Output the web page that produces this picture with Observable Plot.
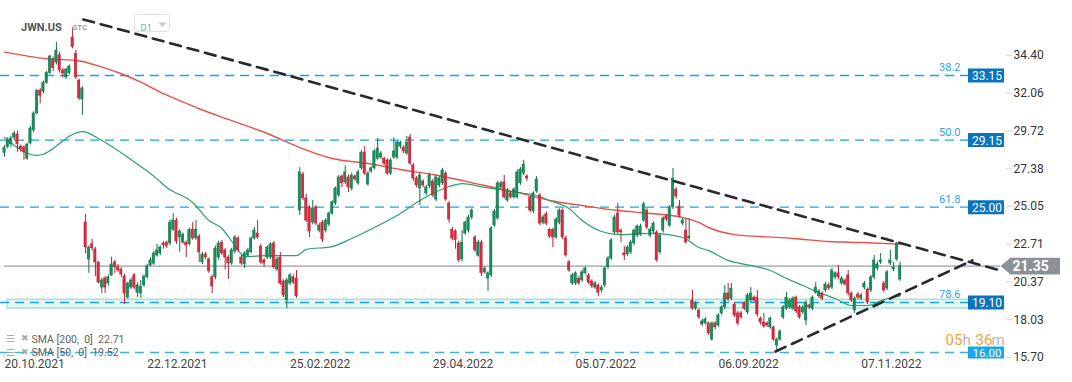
<!DOCTYPE html>
<html><head><meta charset="utf-8">
<script src="https://cdn.jsdelivr.net/npm/d3@7"></script>
<script src="https://cdn.jsdelivr.net/npm/@observablehq/plot@0.6"></script>
<style>html,body{margin:0;padding:0;background:#fff;overflow:hidden}</style>
</head><body><div id="chart"></div>
<script>
// ---- data: daily candles JWN.US, 20.10.2021 .. 23.11.2022 (index = trading day) ----
const open = [
28.34,28.71,28.88,29.30,29.50,28.75,28.70,28.00,28.95,29.75,
30.80,32.20,32.15,32.70,33.30,34.14,33.95,34.40,33.46,33.03,
33.30,35.50,34.50,32.84,31.67,24.05,21.75,22.70,22.38,21.58,
20.02,20.58,20.27,20.77,21.58,21.30,21.14,20.70,19.40,20.02,
20.77,19.70,19.65,20.15,20.65,21.39,21.50,22.00,22.13,22.75,
22.80,22.75,23.60,24.17,23.12,22.80,22.80,22.70,23.60,23.06,
23.18,21.58,22.07,21.76,20.65,20.65,21.88,22.80,22.32,21.88,
21.51,22.25,23.06,21.88,21.45,22.00,22.20,23.06,23.37,22.56,
21.70,21.88,21.88,22.75,21.14,21.88,20.40,19.22,20.27,20.65,
20.58,24.79,27.02,25.54,24.98,24.04,24.98,23.55,24.04,23.55,
23.92,24.60,25.23,25.72,26.90,26.53,26.84,26.15,26.90,26.47,
27.40,28.38,26.40,27.20,27.40,28.00,28.07,28.00,27.89,27.08,
28.07,28.07,28.75,28.69,28.32,29.31,27.58,26.77,26.15,26.59,
25.85,26.28,26.59,25.47,26.34,26.47,27.08,25.23,23.60,23.50,
22.75,21.76,23.37,23.55,24.36,23.12,22.00,22.81,20.96,20.58,
20.77,23.86,24.30,26.22,26.53,25.41,25.85,25.60,25.60,26.47,
27.08,26.90,25.60,24.73,25.97,25.72,24.04,24.55,23.60,23.60,
23.12,24.04,24.79,23.06,21.58,20.27,20.27,20.58,20.46,20.90,
20.77,20.40,20.02,20.15,19.84,20.15,21.27,21.82,23.43,24.60,
23.55,22.13,22.07,22.20,22.75,23.24,23.30,24.17,24.79,23.24,
23.49,23.43,22.20,23.55,24.42,23.86,24.98,26.09,25.04,23.98,
23.55,23.06,19.22,18.72,18.60,17.73,17.80,17.80,16.80,17.80,
17.67,18.42,18.79,19.65,19.34,18.97,18.42,18.42,19.03,18.48,
19.22,19.40,19.40,18.10,17.86,17.80,17.55,17.55,16.43,16.80,
18.17,18.72,18.79,18.72,19.40,18.79,18.48,17.98,18.91,18.72,
19.71,19.47,19.65,19.84,20.15,20.02,20.65,20.90,20.27,20.46,
20.77,19.65,18.60,19.59,19.34,20.02,19.90,19.84,20.65,21.20,
21.58,20.27,19.96,21.51,21.14,21.76,20.52];
const high = [
28.82,29.30,29.40,29.70,29.70,28.85,28.80,28.95,30.00,30.90,
32.30,32.35,32.80,33.40,34.40,34.30,35.20,34.60,33.60,33.60,
33.80,36.10,34.70,32.90,32.45,24.55,22.60,23.00,22.50,21.60,
20.60,20.70,20.80,21.90,21.70,21.45,21.25,20.85,20.35,20.60,
20.90,20.30,20.46,20.80,21.45,21.85,22.25,22.70,22.60,22.85,
22.90,24.20,24.60,24.30,23.60,23.40,22.90,23.70,24.04,24.17,
23.30,22.20,22.20,21.85,20.80,22.60,22.90,22.95,22.45,22.00,
22.45,23.25,23.20,22.00,22.25,22.45,23.15,23.74,24.17,22.70,
21.80,22.60,22.80,22.87,21.90,22.20,20.50,20.60,20.90,20.80,
21.08,27.45,27.15,25.80,25.10,25.41,25.10,24.00,24.17,24.30,
24.70,25.40,26.25,26.95,27.00,27.55,27.00,27.10,27.00,27.30,
28.50,28.75,27.20,27.50,28.55,29.25,28.45,28.10,28.00,28.00,
29.30,29.10,29.10,28.80,29.38,29.50,27.70,26.90,27.10,26.70,
26.35,27.10,26.70,26.95,26.90,27.40,27.20,25.35,23.75,23.60,
22.90,23.55,24.15,24.50,24.90,23.25,22.95,22.95,21.30,21.00,
23.80,24.85,26.60,26.60,26.96,26.15,25.95,26.20,27.30,27.45,
27.90,27.00,25.70,25.95,26.90,25.85,24.50,24.70,23.70,23.70,
24.35,24.90,24.90,23.20,21.70,20.90,21.00,20.70,21.10,21.30,
20.90,20.50,20.40,20.25,20.15,21.30,21.95,23.05,24.50,25.23,
23.65,22.56,22.60,22.95,23.65,23.90,23.95,25.30,24.90,23.75,
24.10,23.55,23.35,24.40,24.55,25.10,27.39,26.20,25.41,24.30,
24.30,24.30,19.84,19.15,18.70,18.05,18.15,17.90,17.90,17.90,
18.40,18.90,20.15,20.27,20.27,19.10,18.55,18.55,19.15,19.65,
20.02,19.50,19.84,18.20,18.42,17.90,18.20,17.65,16.90,17.40,
18.90,19.71,19.35,19.45,19.50,18.90,18.90,19.20,19.00,19.50,
20.33,19.90,19.75,20.33,20.27,21.20,21.00,21.39,20.70,20.55,
21.08,19.75,19.45,19.70,19.65,20.40,20.00,20.77,22.01,21.60,
22.13,20.40,21.08,22.32,21.58,22.81,21.58];
const low = [
28.09,28.60,28.70,29.10,28.40,28.40,27.90,27.90,28.85,29.60,
30.70,31.40,32.00,32.60,33.20,33.40,33.80,33.30,33.00,32.90,
33.20,34.80,32.90,31.60,30.68,22.10,20.90,22.30,20.70,20.25,
19.65,19.65,20.10,20.70,20.90,20.95,20.65,18.97,19.30,19.90,
19.90,19.40,19.35,20.05,20.55,21.30,21.40,21.90,22.00,22.40,
22.45,22.60,23.50,22.70,22.20,22.70,21.88,22.60,22.95,22.95,
21.58,21.45,21.75,20.90,19.65,20.50,21.70,22.00,21.10,20.52,
21.40,22.10,22.20,21.40,21.20,21.90,22.10,22.95,23.00,21.45,
21.27,21.75,21.75,21.15,21.00,20.15,19.40,18.72,20.15,20.20,
19.35,24.48,25.40,24.05,23.12,23.90,23.85,23.40,22.80,23.40,
23.80,24.50,25.10,25.60,26.20,26.40,25.90,26.00,26.60,26.35,
27.30,26.95,26.30,27.10,27.30,27.90,27.95,27.55,26.95,26.95,
27.95,27.95,28.60,28.30,28.20,27.58,26.60,26.20,25.10,26.20,
25.70,26.15,25.60,25.35,26.20,26.35,25.35,24.00,22.90,22.40,
21.55,21.60,23.25,23.40,24.20,22.20,21.90,20.70,20.85,19.78,
20.65,23.75,24.20,26.10,25.50,25.30,25.50,25.50,25.50,26.35,
26.95,26.60,24.65,24.60,25.85,23.85,23.90,23.85,23.05,22.50,
23.00,23.90,23.00,21.90,20.95,20.15,20.15,20.15,20.35,20.80,
20.20,19.95,19.90,19.47,19.70,20.00,21.15,21.70,23.30,23.30,
22.81,21.70,21.95,22.05,22.60,23.10,23.20,24.05,23.60,23.10,
23.35,21.58,22.05,23.40,24.10,23.75,24.85,25.50,24.35,23.85,
22.70,22.95,18.60,18.60,18.05,17.60,17.70,17.05,16.70,17.40,
17.55,18.30,18.65,19.15,19.20,18.15,17.65,18.05,18.60,18.35,
19.10,19.10,18.20,17.70,17.50,17.55,17.45,16.70,16.06,16.70,
18.05,18.60,18.65,18.60,18.40,18.05,18.35,17.67,18.65,18.60,
19.60,19.35,19.20,19.70,19.85,19.90,20.50,20.50,20.15,20.10,
19.50,19.10,18.42,19.25,19.20,19.90,18.97,19.70,20.50,21.05,
21.45,19.70,19.84,21.39,21.00,21.64,20.40];
const close = [
28.65,29.13,29.25,29.55,28.90,28.58,28.38,28.88,29.87,30.80,
32.20,31.90,32.70,33.30,34.33,33.60,34.70,33.46,33.27,33.52,
33.70,34.90,33.03,31.73,32.35,22.50,22.50,22.45,21.58,20.33,
20.46,20.02,20.65,21.45,21.27,21.08,20.83,19.65,20.27,20.46,
20.02,20.15,20.08,20.70,21.33,21.70,22.13,22.32,22.50,22.63,
22.60,24.04,24.17,22.87,23.49,23.30,22.63,23.60,23.06,23.60,
22.20,22.07,21.88,21.02,20.09,22.44,22.75,22.13,21.88,21.51,
22.32,23.12,22.32,21.51,22.13,22.32,23.06,23.55,23.12,21.58,
21.51,22.50,22.69,21.27,21.76,20.27,19.53,20.46,20.77,20.33,
19.47,27.15,25.54,24.17,23.49,24.92,23.98,23.86,23.00,24.17,
24.60,25.29,26.15,26.84,26.47,27.15,26.22,26.96,26.71,27.15,
28.38,27.08,27.08,27.40,28.45,28.63,28.32,27.70,27.08,27.89,
28.45,29.00,29.00,28.45,29.00,27.70,26.77,26.34,26.96,26.34,
26.22,26.96,25.72,26.84,26.77,27.27,25.47,24.23,23.06,22.95,
21.70,22.81,24.04,24.36,24.79,22.32,22.81,20.90,21.20,20.90,
23.68,24.73,26.47,26.47,25.60,26.03,25.60,26.09,27.15,27.33,
27.64,26.77,24.79,25.85,26.71,23.98,24.36,23.98,23.18,23.12,
24.23,24.79,23.12,22.01,21.08,20.77,20.90,20.27,20.96,21.20,
20.33,20.09,20.27,19.71,20.02,21.20,21.82,22.94,24.36,23.43,
23.43,22.01,22.50,22.81,23.55,23.80,23.80,25.17,23.74,23.60,
23.98,21.70,23.24,24.30,24.23,24.98,26.77,25.66,24.48,24.17,
22.81,23.18,18.72,19.03,18.17,17.92,18.05,17.18,17.80,17.55,
18.29,18.79,19.65,19.28,19.96,18.29,17.80,18.17,18.72,19.53,
19.65,19.22,18.35,17.86,17.61,17.67,18.10,16.80,16.80,17.30,
18.79,19.40,19.22,19.34,18.54,18.17,18.79,19.09,18.79,19.40,
20.02,19.78,19.34,20.21,19.96,21.08,20.90,20.65,20.58,20.21,
19.65,19.22,19.34,19.40,19.53,20.27,19.09,20.65,21.70,21.45,
21.70,19.84,20.96,21.70,21.27,22.75,21.35];

// moving averages (index, price)
const sma200Idx = [0,13,23,30,36,42,48,54,60,70,81,91,101,112,122,132,148,158,168,178,189,199,209,214,217,225,233,243,254,264,276];
const sma200Val = [34.60,34.19,34.05,33.67,33.26,32.74,32.12,31.60,31.09,30.36,29.56,28.69,28.01,27.70,27.33,27.02,26.34,25.91,25.41,25.10,24.79,24.61,24.36,24.05,23.74,23.30,23.18,23.06,22.87,22.81,22.71];
const sma50Idx = [0,10,24,30,40,47,50,58,63,67,71,74,81,90,93,101,107,114,122,127,132,137,141,148,158,164,168,174,178,184,189,199,209,214,217,223,230,236,241,246,251,256,261,266,271,276];
const sma50Val = [29.31,28.20,29.68,29.13,27.80,26.75,26.22,25.29,24.17,23.68,22.62,21.94,22.00,22.00,22.38,22.56,23.06,23.74,24.60,25.29,25.84,26.28,26.46,26.22,25.91,25.72,25.41,24.91,24.17,23.49,23.30,23.37,23.12,22.50,22.31,21.70,21.39,21.08,20.58,20.15,19.71,19.34,18.91,18.91,19.28,19.50];

// trend lines (index, price)
const upperTrend = [{i: 24.3, p: 36.62}, {i: 306.9, p: 21.08}];
const lowerTrend = [{i: 237.6, p: 16.06}, {i: 298.3, p: 21.70}];

// levels
const fibLevels = [33.15, 29.15, 25.00, 19.10];
const fibLabels = ["38.2", "50.0", "61.8", "78.6"];
const supportLevel = 16.00;
const zoneLow = 18.72, zoneHigh = 19.27;
const lastPrice = 21.35;

const yTicks = [34.40, 32.06, 29.72, 27.38, 25.05, 22.71, 20.37, 18.03, 15.70];
const xTickIdx = [0, 44, 88, 132, 176, 220, 264];
const xTickLabels = ["20.10.2021", "22.12.2021", "25.02.2022", "29.04.2022", "05.07.2022", "06.09.2022", "07.11.2022"];

const legendLines = ["SMA [200,  0]  22.71", "SMA [50,  0]  19.52"];

// ---- build ----
const candles = open.map((o, i) => ({i, o, h: high[i], l: low[i], c: close[i]}));
const up = candles.filter(d => d.c >= d.o);
const dn = candles.filter(d => d.c < d.o);
const sma200 = sma200Idx.map((i, k) => ({i, p: sma200Val[k]}));
const sma50 = sma50Idx.map((i, k) => ({i, p: sma50Val[k]}));
const fib = fibLevels.map((v, k) => ({v, t: fibLabels[k]}));

const GREEN = "#17915c", GREEN_D = "#0f6f45", RED = "#dd2a3d", RED_D = "#b81f31";
const BLUE = "#17a3e8", BOX = "#0b74bd", BOX2 = "#16a8ec";

const tagLeft = {draw(c) { c.moveTo(-5, 0); c.lineTo(5.2, -8.4); c.lineTo(5.2, 8.4); c.closePath(); }};
const caretDown = {draw(c) { c.moveTo(-4, -2); c.lineTo(4, -2); c.lineTo(0, 2.5); c.closePath(); }};

const W = 1072, H = 382, MR = 104, MB = 28;
const FR = W - MR; // frame right edge
const bodyHalf = 0.36;

const chart = Plot.plot({
  width: W, height: H,
  marginLeft: 0, marginRight: MR, marginTop: 0, marginBottom: MB,
  style: {fontFamily: "Roboto, 'Noto Sans', sans-serif", fontSize: "12px", background: "#fff", overflow: "visible"},
  x: {domain: [0, 276], range: [4, 4 + 276 * 3.245]},
  y: {domain: [16.00, 33.15], range: [352, 75]},
  marks: [
    // zone 78.6
    Plot.rect([{a: zoneLow, b: zoneHigh}], {y1: "a", y2: "b", fill: "#e4f7f0", stroke: "#98dcc3", strokeWidth: 1.2, insetLeft: 7, insetRight: -2}),
    // fib lines
    Plot.ruleY(fibLevels, {stroke: BLUE, strokeWidth: 1.4, strokeDasharray: "9,6"}),
    Plot.ruleY([supportLevel], {stroke: BLUE, strokeWidth: 1.4, strokeDasharray: "9,6", strokeOpacity: 0.85}),
    // current price line
    Plot.ruleY([lastPrice], {stroke: "#7d868d", strokeWidth: 1, insetLeft: 4, insetRight: -32}),
    // moving averages
    Plot.line(sma200, {x: "i", y: "p", stroke: "#e8504a", strokeWidth: 1.4, curve: "monotone-x"}),
    Plot.line(sma50, {x: "i", y: "p", stroke: "#2f9f6f", strokeWidth: 1.2, curve: "monotone-x"}),
    // candles
    Plot.ruleX(up, {x: "i", y1: "l", y2: "h", stroke: GREEN_D, strokeWidth: 1}),
    Plot.ruleX(dn, {x: "i", y1: "l", y2: "h", stroke: RED_D, strokeWidth: 1}),
    Plot.rect(up, {x1: d => d.i - bodyHalf, x2: d => d.i + bodyHalf, y1: "o", y2: "c", fill: GREEN, stroke: GREEN_D, strokeWidth: 0.5}),
    Plot.rect(dn, {x1: d => d.i - bodyHalf, x2: d => d.i + bodyHalf, y1: "o", y2: "c", fill: RED, stroke: RED_D, strokeWidth: 0.5}),
    // trend lines
    Plot.line(upperTrend, {x: "i", y: "p", stroke: "#262a2e", strokeWidth: 2.6, strokeDasharray: "11,7"}),
    Plot.line(lowerTrend, {x: "i", y: "p", stroke: "#262a2e", strokeWidth: 2.6, strokeDasharray: "11,7"}),
    // level boxes
    Plot.ruleY(fibLevels, {stroke: BOX, strokeWidth: 14, insetLeft: FR, insetRight: -36}),
    Plot.ruleY([supportLevel], {stroke: BOX2, strokeWidth: 12, insetLeft: FR, insetRight: -36}),
    Plot.text(fibLevels, {y: d => d, text: d => d.toFixed(2), frameAnchor: "right", dx: 18.5, dy: 1, fill: "#fff", fontSize: 12, textAnchor: "middle"}),
    Plot.text([supportLevel], {y: d => d, text: d => d.toFixed(2), frameAnchor: "right", dx: 18.5, dy: 0.5, fill: "#fff", fontSize: 11.5, textAnchor: "middle"}),
    Plot.text(fib, {y: "v", text: "t", frameAnchor: "right", dx: -8, dy: -8, fill: "#2aa7e3", fontSize: 11, textAnchor: "end"}),
    // last price tag
    Plot.ruleY([lastPrice], {stroke: "#8a9297", strokeWidth: 16.7, insetLeft: FR + 41.5, insetRight: -92}),
    Plot.dot([lastPrice], {y: d => d, frameAnchor: "right", dx: 37, symbol: tagLeft, r: 3, fill: "#8a9297", stroke: "none"}),
    Plot.text([lastPrice], {y: d => d, text: d => d.toFixed(2), frameAnchor: "right", dx: 44, fill: "#fff", fontSize: 14, fontWeight: "bold", textAnchor: "start"}),
    // axes
    Plot.axisY(yTicks, {anchor: "right", dx: 37, tickSize: 6, tickPadding: 2, tickFormat: d => d.toFixed(2), stroke: "#d5d5d5", fill: "#333", fontSize: 12, label: null}),
    Plot.axisX(xTickIdx, {anchor: "bottom", tickSize: 4, tickPadding: 1, tickFormat: d => xTickLabels[xTickIdx.indexOf(d)], textAnchor: "start", stroke: "#dcdcdc", fill: "#444", fontSize: 12, label: null}),
    // header
    Plot.text(["JWN.US"], {text: d => d, frameAnchor: "top-left", dx: 20.5, dy: 23, fontWeight: "bold", fontSize: 11, fill: "#505358", textAnchor: "start"}),
    Plot.text(["STC"], {text: d => d, frameAnchor: "top-left", dx: 72, dy: 24, fontWeight: 500, fontSize: 8, fill: "#8c9bab", textAnchor: "start"}),
    Plot.frame({insetLeft: 134, insetRight: FR - 169, insetTop: 14, insetBottom: (H - MB) - 31, stroke: "#e2e2e2", fill: "#fff", rx: 3}),
    Plot.text(["D1"], {text: d => d, frameAnchor: "top-left", dx: 140, dy: 24, fontSize: 9.5, fill: "#9aa0a6", textAnchor: "start"}),
    Plot.dot([0], {frameAnchor: "top-left", dx: 162, dy: 24, symbol: caretDown, r: 3, fill: "#c8c8c8", stroke: "none"}),
    // legend
    Plot.text(["☰"], {text: d => d, frameAnchor: "top-left", dx: 5.5, dy: 334, fontSize: 10, fill: "#aaaaaa", textAnchor: "start"}),
    Plot.text(["☰"], {text: d => d, frameAnchor: "top-left", dx: 5.5, dy: 348, fontSize: 10, fill: "#aaaaaa", textAnchor: "start"}),
    Plot.text(["✖"], {text: d => d, frameAnchor: "top-left", dx: 20, dy: 334, fontSize: 9, fill: "#aaaaaa", textAnchor: "start"}),
    Plot.text(["✖"], {text: d => d, frameAnchor: "top-left", dx: 20, dy: 348, fontSize: 9, fill: "#aaaaaa", textAnchor: "start"}),
    Plot.text([legendLines[0]], {text: d => d, frameAnchor: "top-left", dx: 31, dy: 335, fontSize: 10.5, fill: "#606060", textAnchor: "start"}),
    Plot.text([legendLines[1]], {text: d => d, frameAnchor: "top-left", dx: 31, dy: 348.5, fontSize: 10.5, fill: "#606060", textAnchor: "start"}),
    // countdown
    Plot.text(["05"], {text: d => d, frameAnchor: "top-left", dx: 945, dy: 334, fontSize: 15, fill: "#f5a238", textAnchor: "start"}),
    Plot.text(["h"], {text: d => d, frameAnchor: "top-left", dx: 962, dy: 334, fontSize: 15, fill: "#b3b3b3", textAnchor: "start"}),
    Plot.text(["36"], {text: d => d, frameAnchor: "top-left", dx: 975, dy: 334, fontSize: 15, fill: "#f5a238", textAnchor: "start"}),
    Plot.text(["m"], {text: d => d, frameAnchor: "top-left", dx: 991, dy: 334, fontSize: 15, fill: "#b3b3b3", textAnchor: "start"})
  ]
});
document.getElementById("chart").appendChild(chart);
</script></body></html>
